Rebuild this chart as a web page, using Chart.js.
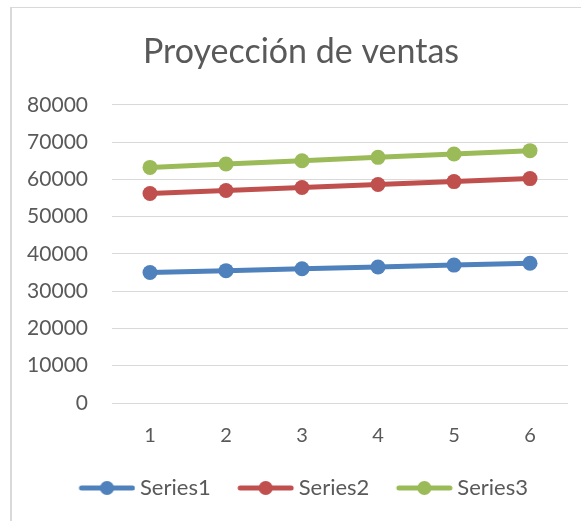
<!DOCTYPE html>
<html>
<head>
<meta charset="utf-8">
<script src="https://cdn.jsdelivr.net/npm/chart.js@4"></script>
<style>
  html, body { margin: 0; padding: 0; background: #fff; }
  #wrap { position: relative; width: 581px; height: 521px; }
  #frame { position: absolute; left: 10px; top: 7px; right: -2px; bottom: -2px; border-left: 2px solid #d9d9d9; border-top: 1px solid #d9d9d9; pointer-events: none; }
  canvas { position: absolute; left: 0; top: 0; }
</style>
</head>
<body>
<div id="wrap">
  <canvas id="c" width="581" height="521"></canvas>
  <div id="frame"></div>
</div>
<script>
const categories = ["1", "2", "3", "4", "5", "6"];
const series1 = [35000, 35500, 36000, 36500, 37000, 37500];
const series2 = [56200, 57000, 57800, 58600, 59400, 60200];
const series3 = [63200, 64100, 65000, 65900, 66800, 67700];
const seriesNames = ["Series1", "Series2", "Series3"];
const colors = ["#4f81bd", "#c0504d", "#9bbb59"];
const titleText = "Proyección de ventas";
const yMin = 0, yMax = 80000, yStep = 10000;

const FONT = "Lato, 'Open Sans', sans-serif";
const TEXT = "#595959";

function legendIcon(color) {
  const cv = document.createElement('canvas');
  cv.width = 66; cv.height = 16;
  const g = cv.getContext('2d');
  g.strokeStyle = color; g.lineWidth = 5; g.lineCap = 'round';
  g.beginPath(); g.moveTo(12, 8); g.lineTo(63, 8); g.stroke();
  g.fillStyle = color;
  g.beginPath(); g.arc(37.5, 8, 7, 0, Math.PI * 2); g.fill();
  return cv;
}
const icons = colors.map(c => legendIcon(c));

const allSeries = [series1, series2, series3];
const datasets = allSeries.map((d, i) => ({
  label: seriesNames[i],
  data: d,
  borderColor: colors[i],
  backgroundColor: colors[i],
  borderWidth: 5,
  pointStyle: 'circle',
  pointRadius: 7.5,
  pointHoverRadius: 7.5,
  pointBackgroundColor: colors[i],
  pointBorderWidth: 0,
  tension: 0
}));

// shift title and legend horizontally to match the reference centring
const shiftBoxes = {
  id: 'shiftBoxes',
  afterLayout(chart) {
    if (chart.titleBlock) { chart.titleBlock.left += 17; chart.titleBlock.right += 17; }
    if (chart.legend) { chart.legend.left += 18; chart.legend.right += 18; }
  }
};

new Chart(document.getElementById('c'), {
  type: 'line',
  data: { labels: categories, datasets },
  plugins: [shiftBoxes],
  options: {
    responsive: false,
    animation: false,
    layout: { padding: { left: 0, right: 13, top: 0, bottom: 12 } },
    plugins: {
      title: {
        display: true,
        text: titleText,
        color: TEXT,
        font: { family: FONT, size: 34, weight: 'normal' },
        padding: { top: 32, bottom: 32 }
      },
      legend: {
        position: 'bottom',
        labels: {
          color: TEXT,
          font: { family: FONT, size: 22 },
          usePointStyle: true,
          pointStyleWidth: 53,
          boxHeight: 16,
          padding: 24,
          generateLabels: (chart) => chart.data.datasets.map((ds, i) => ({
            text: ds.label,
            pointStyle: icons[i],
            fillStyle: ds.borderColor,
            strokeStyle: ds.borderColor,
            lineWidth: 0,
            fontColor: TEXT,
            datasetIndex: i,
            hidden: false
          }))
        }
      },
      tooltip: { enabled: false }
    },
    scales: {
      x: {
        offset: true,
        grid: { display: false, drawTicks: false },
        border: { display: false },
        ticks: { color: TEXT, font: { family: FONT, size: 20 }, padding: 21 },
        afterFit: (s) => { s.height = 50; }
      },
      y: {
        min: yMin, max: yMax,
        grid: { color: '#d9d9d9', lineWidth: 1, drawTicks: false },
        border: { display: false },
        ticks: { stepSize: yStep, color: TEXT, font: { family: FONT, size: 21 }, padding: 24,
                 callback: (v) => String(v) },
        afterFit: (s) => { s.width = 112; }
      }
    }
  }
});
</script>
</body>
</html>
